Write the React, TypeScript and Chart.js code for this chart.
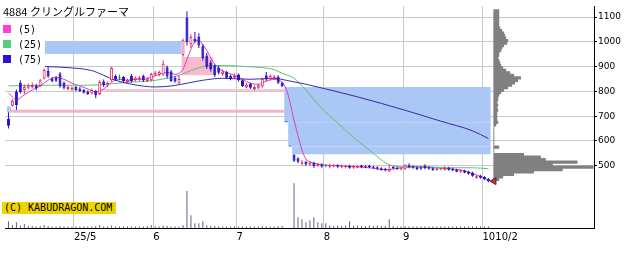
import React, { useEffect, useRef } from 'react';
import { Chart, registerables } from 'chart.js';

Chart.register(...registerables);

// ---- daily candles (index 0 = 2025-04-07 ... 121 = 2025-10-02)
const opens = [
  690, 742, 800, 835, 806, 815, 818, 824, 822, 852,
  882, 852, 855, 872, 835, 810, 808, 818, 812, 806,
  800, 792, 802, 790, 840, 824, 845, 862, 855, 858,
  838, 862, 845, 848, 862, 842, 845, 868, 866, 868,
  898, 880, 855, 835, 947, 1096, 990, 1012, 1022, 982,
  945, 915, 905, 895, 870, 878, 862, 855, 868, 845,
  816, 830, 810, 815, 820, 865, 850, 852, 860, 835,
  676, 578, 545, 530, 508, 516, 505, 512, 500, 505,
  500, 496, 497, 503, 496, 496, 500, 493, 494, 501,
  498, 500, 497, 494, 490, 488, 478, 495, 492, 485,
  486, 502, 498, 494, 494, 500, 494, 490, 483, 486,
  484, 492, 488, 484, 476, 480, 476, 472, 452, 460,
  455, 448,
];
const highs = [
  716, 768, 808, 845, 828, 832, 835, 830, 850, 892,
  900, 858, 862, 878, 840, 824, 820, 822, 818, 810,
  805, 812, 806, 845, 848, 840, 900, 868, 868, 862,
  852, 870, 860, 862, 868, 858, 875, 882, 884, 925,
  905, 886, 862, 865, 1012, 1123, 1030, 1040, 1035, 990,
  955, 925, 910, 905, 888, 882, 868, 872, 872, 848,
  835, 835, 825, 830, 855, 878, 868, 866, 865, 838,
  676, 578, 547, 534, 524, 520, 518, 516, 512, 510,
  506, 508, 506, 506, 505, 504, 504, 502, 502, 504,
  502, 504, 500, 498, 494, 492, 503, 498, 496, 494,
  506, 510, 502, 498, 498, 506, 498, 494, 492, 490,
  498, 496, 492, 488, 486, 484, 480, 476, 462, 464,
  458, 450,
];
const lows = [
  650, 739, 725, 792, 790, 808, 812, 805, 818, 848,
  855, 836, 838, 815, 808, 804, 802, 800, 798, 792,
  786, 788, 772, 786, 818, 818, 840, 842, 845, 835,
  832, 835, 840, 842, 838, 838, 840, 862, 860, 862,
  852, 838, 835, 830, 940, 985, 975, 995, 975, 925,
  890, 880, 858, 868, 862, 850, 845, 850, 840, 818,
  812, 810, 805, 810, 815, 842, 845, 846, 830, 818,
  676, 578, 515, 510, 502, 500, 500, 492, 496, 492,
  494, 490, 494, 490, 490, 490, 488, 488, 490, 490,
  490, 490, 488, 484, 480, 478, 475, 486, 484, 482,
  484, 490, 488, 482, 484, 486, 484, 480, 480, 482,
  480, 480, 478, 474, 472, 470, 464, 456, 448, 448,
  442, 434,
];
const closes = [
  662, 762, 745, 798, 818, 825, 826, 812, 845, 886,
  860, 842, 843, 822, 815, 818, 815, 806, 802, 795,
  790, 806, 785, 838, 825, 834, 894, 848, 855, 842,
  847, 842, 855, 856, 844, 852, 870, 875, 878, 912,
  860, 842, 840, 850, 1006, 998, 1020, 1003, 985, 935,
  900, 890, 865, 875, 880, 855, 850, 862, 845, 822,
  828, 815, 818, 825, 850, 848, 862, 860, 835, 822,
  676, 578, 520, 516, 514, 505, 512, 498, 508, 497,
  500, 502, 502, 497, 501, 501, 492, 499, 499, 495,
  494, 494, 492, 488, 484, 482, 488, 490, 487, 490,
  502, 494, 492, 486, 488, 490, 488, 482, 488, 486,
  490, 484, 482, 476, 482, 472, 468, 460, 458, 452,
  446, 438,
];
const volumes = [
  140, 60, 120, 50, 80, 40, 40, 30, 40, 60,
  40, 30, 30, 40, 30, 30, 30, 30, 30, 30,
  30, 30, 40, 60, 30, 30, 50, 30, 30, 30,
  30, 30, 30, 30, 30, 40, 60, 30, 30, 50,
  40, 30, 30, 30, 60, 760, 260, 100, 100, 140,
  50, 40, 40, 30, 30, 30, 30, 30, 30, 30,
  30, 30, 30, 30, 40, 30, 30, 30, 40, 40,
  0, 0, 920, 220, 180, 120, 160, 220, 120, 100,
  100, 50, 40, 50, 40, 50, 140, 40, 50, 40,
  40, 50, 40, 50, 40, 40, 180, 40, 30, 30,
  40, 30, 30, 30, 30, 30, 30, 30, 30, 30,
  30, 30, 30, 30, 30, 30, 30, 30, 30, 30,
  30, 30,
];

// ---- moving averages (at sample days)
const ma5Idx = [0, 2, 4, 6, 8, 10, 12, 14, 16, 18, 20, 22, 24, 26, 28, 30, 32, 34, 36, 38, 40, 42, 44, 45, 46, 47, 48, 49, 50, 51, 52, 53, 55, 57, 59, 61, 63, 65, 67, 69, 70, 71, 72, 73, 74, 75, 76, 79, 83, 87, 91, 95, 99, 103, 107, 111, 115, 117, 119, 121];
const ma5Val = [794, 767, 786, 806, 822, 845, 857, 849, 833, 822, 810, 798, 810, 837, 849, 845, 849, 849, 857, 869, 876, 869, 890, 930, 970, 1000, 1005, 990, 965, 935, 910, 893, 876, 865, 849, 833, 829, 841, 849, 837, 810, 755, 684, 622, 563, 527, 516, 504, 500, 496, 492, 484, 492, 496, 492, 488, 480, 469, 457, 441];
const ma25Idx = [0, 10, 20, 25, 30, 35, 40, 43, 46, 49, 52, 56, 60, 64, 67, 69, 72, 75, 79, 83, 87, 91, 94, 96, 99, 105, 111, 117, 121];
const ma25Val = [822, 825, 825, 829, 837, 841, 853, 865, 884, 900, 904, 904, 900, 896, 888, 873, 853, 806, 731, 673, 614, 563, 524, 504, 496, 496, 492, 492, 488];
const ma75Idx = [0, 10, 15, 21, 24, 27, 31, 37, 41, 45, 49, 54, 61, 67, 70, 75, 80, 88, 100, 109, 117, 121];
const ma75Val = [908, 900, 896, 884, 865, 845, 829, 818, 822, 833, 845, 853, 849, 853, 845, 829, 810, 778, 724, 680, 641, 610];

// ---- unfilled gap zones (day from, day to, price low, price high)
const zoneFrom = [-0.875, 43.6, 69.5, 70.5, 71.5, -0.375];
const zoneTo = [43.6, 51.6, 121.6, 121.6, 121.6, 0.625];
const zoneLow = [951, 865, 676, 578, 547, 716];
const zoneHigh = [1002, 939, 818, 676, 578, 739];
const zoneKind = ['blue', 'pink', 'blue', 'blue', 'blue', 'blue'];

// ---- horizontal price lines
const hlPrice = [720, 806];
const hlFrom = [0.4, 23];
const hlTo = [69.6, 69.6];

// ---- volume by price (right side)
const profPrices = [1125, 1115, 1105, 1095, 1085, 1075, 1065, 1055, 1045, 1035, 1025, 1015, 1005, 995, 985, 975, 965, 955, 945, 935, 925, 915, 905, 895, 885, 875, 865, 855, 845, 835, 825, 815, 805, 795, 785, 775, 765, 755, 745, 735, 725, 715, 705, 695, 685, 675, 665, 655, 645, 635, 625, 615, 605, 595, 585, 575, 565, 555, 545, 535, 525, 515, 505, 495, 485, 475, 465, 455, 445];
const profVols = [5, 5, 5, 5, 5, 5, 5, 6, 8, 10, 11, 12, 14, 13, 10, 8, 7, 5, 5, 4, 5, 6, 7, 9, 12, 16, 20, 27, 24, 21, 18, 14, 10, 7, 5, 4, 4, 3, 4, 3, 4, 3, 3, 3, 3, 4, 2, 0, 0, 0, 0, 0, 0, 0, 0, 5, 0, 0, 30, 47, 52, 84, 59, 100, 69, 40, 20, 9, 5];

// ---- axis ticks
const xTickVals = [16.5, 36.5, 57.5, 79.5, 99.5, 119.5, 122.75];
const xTickLabels = ['25/5', '6', '7', '8', '9', '10', '10/2'];
const yTickVals = [500, 600, 700, 800, 900, 1000, 1100];
const PRICE_MIN = 249;
const PRICE_MAX = 1143;

const RED = '#e0286a';
const BLUE = '#2a12c4';
const GREEN = '#128c2c';
const FLAT = '#20206a';
const ZONE_BLUE = '#abc7f5';
const ZONE_PINK = '#f7bace';

function candleColor(i: number) {
  if (highs[i] === lows[i]) return FLAT;
  if (closes[i] > opens[i]) return RED;
  if (closes[i] < opens[i]) return BLUE;
  return GREEN;
}

export default function App() {
  const ref = useRef<HTMLCanvasElement>(null);

  useEffect(() => {
    const idx = closes.map((_, i) => i);
    const datasets: any[] = [];

    zoneFrom.forEach((x0, k) => {
      const c = zoneKind[k] === 'blue' ? ZONE_BLUE : ZONE_PINK;
      datasets.push({
        type: 'line',
        data: [{ x: x0, y: zoneHigh[k] }, { x: zoneTo[k], y: zoneHigh[k] }],
        borderWidth: 0,
        borderColor: c,
        backgroundColor: c,
        pointRadius: 0,
        fill: { value: zoneLow[k] },
        order: 20,
      });
    });

    hlPrice.forEach((p, k) => {
      datasets.push({
        type: 'line',
        data: [{ x: hlFrom[k], y: p }, { x: hlTo[k], y: p }],
        borderWidth: k === 0 ? 3 : 1.5,
        borderColor: '#f2b4cc',
        pointRadius: 0,
        fill: false,
        order: 19,
      });
    });

    datasets.push({
      type: 'bar',
      data: idx.map((i) => ({ x: i, y: volumes[i] })),
      yAxisID: 'yv',
      xAxisID: 'x',
      backgroundColor: '#6c5a8a',
      barThickness: 1,
      grouped: false,
      inflateAmount: 0,
      order: 15,
    });

    datasets.push({
      type: 'bar',
      indexAxis: 'y',
      data: profPrices.map((p, k) => ({ x: profVols[k], y: p })),
      xAxisID: 'xp',
      yAxisID: 'yp',
      backgroundColor: '#808080',
      barPercentage: 1,
      categoryPercentage: 1,
      grouped: false,
      inflateAmount: 0.4,
      order: 15,
    });

    const maLine = (ix: number[], v: number[], color: string) => ({
      type: 'line',
      data: ix.map((x, k) => ({ x, y: v[k] })),
      borderColor: color,
      borderWidth: 1,
      pointRadius: 0,
      cubicInterpolationMode: 'monotone',
      fill: false,
      order: 6,
    });
    datasets.push(maLine(ma75Idx, ma75Val, '#3a2aa8'));
    datasets.push(maLine(ma25Idx, ma25Val, '#5cc07a'));
    datasets.push(maLine(ma5Idx, ma5Val, '#e03cc0'));

    datasets.push({
      type: 'bar',
      data: idx.map((i) => ({ x: i, y: [lows[i], highs[i]] })),
      backgroundColor: (ctx: any) => candleColor(ctx.dataIndex),
      barThickness: 1,
      grouped: false,
      inflateAmount: 0,
      borderSkipped: false,
      order: 3,
    });
    datasets.push({
      type: 'bar',
      data: idx.map((i) => ({ x: i, y: [opens[i], closes[i]] })),
      backgroundColor: (ctx: any) => (closes[ctx.dataIndex] > opens[ctx.dataIndex] ? '#ffffff' : candleColor(ctx.dataIndex)),
      borderColor: (ctx: any) => candleColor(ctx.dataIndex),
      borderWidth: 1,
      borderSkipped: false,
      barThickness: 3,
      minBarLength: 1,
      grouped: false,
      inflateAmount: 0,
      order: 2,
    });

    datasets.push({
      type: 'line',
      data: [{ x: closes.length + 0.4, y: closes[closes.length - 1] }],
      showLine: false,
      pointStyle: 'triangle',
      rotation: -90,
      pointRadius: 4,
      pointBackgroundColor: '#c83030',
      pointBorderColor: '#702020',
      pointBorderWidth: 1,
      order: 1,
    });

    const chart = new Chart(ref.current as HTMLCanvasElement, {
      type: 'bar',
      data: { datasets },
      options: {
        responsive: false,
        maintainAspectRatio: false,
        devicePixelRatio: 1,
        animation: false,
        layout: { padding: 0 },
        plugins: { legend: { display: false }, title: { display: false }, tooltip: { enabled: false } },
        events: [],
        scales: {
          x: {
            type: 'linear',
            position: 'bottom',
            min: -0.875,
            max: 147.625,
            offset: false,
            bounds: 'data',
            grid: {
              offset: false,
              drawTicks: false,
              color: (ctx: any) => (ctx.tick && ctx.tick.value > 121 ? 'rgba(0,0,0,0)' : '#c8c8c8'),
              lineWidth: 1,
            },
            border: { display: true, color: '#000000', width: 1 },
            ticks: {
              autoSkip: false,
              maxRotation: 0,
              minRotation: 0,
              align: 'start',
              padding: 3,
              color: '#000000',
              font: { family: 'DejaVu Sans', size: 10 },
              callback: (v: any) => {
                const k = xTickVals.indexOf(Number(v));
                return k >= 0 ? xTickLabels[k] : '';
              },
            },
            afterBuildTicks: (s: any) => {
              s.ticks = xTickVals.map((v) => ({ value: v }));
            },
            afterFit: (s: any) => {
              s.height = 27;
            },
          },
          y: {
            type: 'linear',
            position: 'right',
            min: PRICE_MIN,
            max: PRICE_MAX,
            offset: false,
            beginAtZero: false,
            bounds: 'data',
            grid: { offset: false, color: '#c8c8c8', tickColor: '#000000', tickLength: 3, drawTicks: true },
            border: { display: true, color: '#000000', width: 1 },
            ticks: {
              padding: 1,
              color: '#000000',
              font: { family: 'DejaVu Sans', size: 9 },
              callback: (v: any) => String(v),
            },
            afterBuildTicks: (s: any) => {
              s.ticks = yTickVals.map((v) => ({ value: v }));
            },
            afterFit: (s: any) => {
              s.width = 45;
            },
          },
          yp: {
            type: 'linear', display: false, min: PRICE_MIN, max: PRICE_MAX, offset: false,
            beginAtZero: false, bounds: 'data', grid: { offset: false },
          },
          yv: { type: 'linear', display: false, min: 0, max: 4560, offset: false },
          xp: { type: 'linear', display: false, min: -493, max: 101, offset: false },
        },
      } as any,
    } as any);
    return () => chart.destroy();
  }, []);

  const legendRow = (top: number, color: string, label: string) => (
    <div
      style={{
        position: 'absolute', left: 0, top, width: 45, height: 15, background: '#ffffff',
      }}
    >
      <div style={{ position: 'absolute', left: 3, top: 3, width: 8, height: 8, background: color }} />
      <div
        style={{
          position: 'absolute', left: 18, top: 1, fontFamily: 'DejaVu Sans Mono', fontSize: 10,
          lineHeight: '13px', color: '#000', whiteSpace: 'nowrap',
        }}
      >
        {label}
      </div>
    </div>
  );

  return (
    <div style={{ position: 'fixed', left: 0, top: 0, width: 639, height: 255, background: '#ffffff', overflow: 'hidden' }}>
      <canvas ref={ref} width={639} height={255} style={{ position: 'absolute', left: 0, top: 0, width: 639, height: 255 }} />
      <div
        style={{
          position: 'absolute', left: 3, top: 5, fontFamily: '"Noto Sans CJK JP"', fontSize: 11,
          lineHeight: '13px', color: '#000', whiteSpace: 'nowrap',
        }}
      >
        4884 クリングルファーマ
      </div>
      {legendRow(22, '#ff40d0', '(5)')}
      {legendRow(37, '#50d080', '(25)')}
      {legendRow(52, '#3010d0', '(75)')}
      <div
        style={{
          position: 'absolute', left: 2, top: 202, width: 114, height: 12, background: '#f0d400',
          fontFamily: 'DejaVu Sans Mono', fontSize: 10, lineHeight: '12px', color: '#000',
          paddingLeft: 2, boxSizing: 'border-box', whiteSpace: 'nowrap',
        }}
      >
        (C) KABUDRAGON.COM
      </div>
    </div>
  );
}
